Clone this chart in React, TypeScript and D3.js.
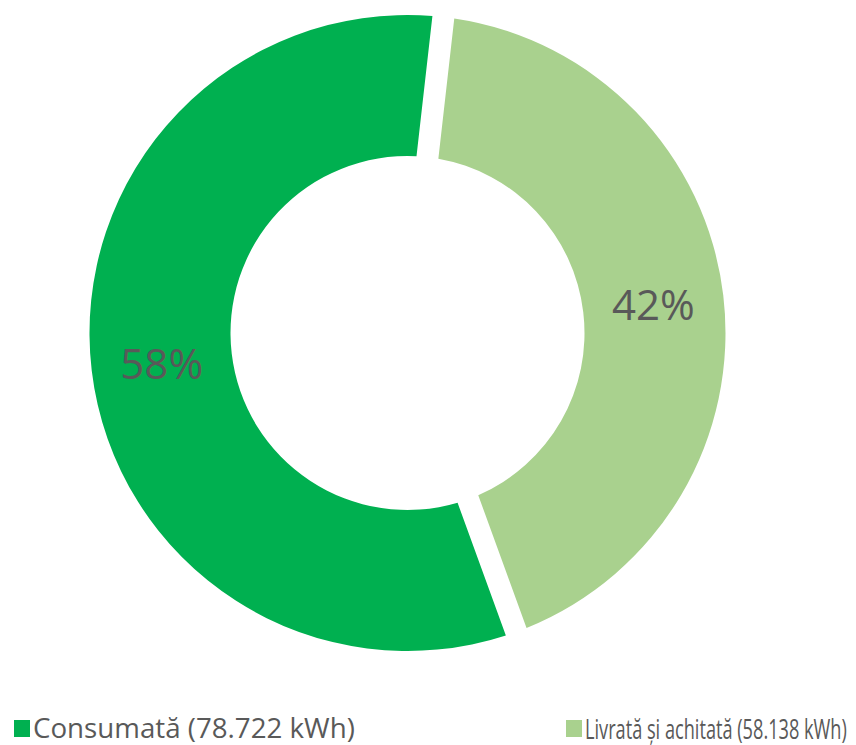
import React, { useEffect, useLayoutEffect, useRef, useState } from 'react';
import * as d3 from 'd3';

const categories = ['Consumată', 'Livrată și achitată'];
const valuesKwh = [78.722, 58.138];
const legendLabels = ['Consumată (78.722 kWh)', 'Livrată și achitată (58.138 kWh)'];
const colors = ['#00B050', '#A9D18E'];

const width = 856;
const height = 745;

export default function App() {
  const legendRefs = useRef<(SVGTextElement | null)[]>([]);
  const [legendScale, setLegendScale] = useState([1, 1]);

  useEffect(() => {
    document.body.style.margin = '0';
  }, []);

  const cx = 407.5;
  const cy = 333;
  const outerR = 318;
  const innerR = 177;
  const gap = 22;

  const total = d3.sum(valuesKwh);
  const startDeg = 160;
  const pie = d3
    .pie<number>()
    .sort(null)
    .value(d => d)
    .startAngle((startDeg * Math.PI) / 180)
    .endAngle(((startDeg + 360) * Math.PI) / 180)
    .padAngle(gap / outerR);

  const arc = d3
    .arc<d3.PieArcDatum<number>>()
    .innerRadius(innerR)
    .outerRadius(outerR)
    .padRadius(outerR);

  const labelArc = d3
    .arc<d3.PieArcDatum<number>>()
    .innerRadius((innerR + outerR) / 2)
    .outerRadius((innerR + outerR) / 2);

  const arcs = pie(valuesKwh);
  const pct = d3.format('.0%');

  // legend: squares, text start and target text widths
  const legendX = [14, 566];
  const legendTextW = [322, 262];
  const legendY = 728;

  // squeeze legend text horizontally to the widths seen in the chart
  useLayoutEffect(() => {
    const s = legendRefs.current.map((el, i) => {
      if (!el) return 1;
      const w = el.getComputedTextLength();
      return w > 0 ? legendTextW[i] / w : 1;
    });
    setLegendScale(s);
  }, []);

  return (
    <svg width={width} height={height} style={{ display: 'block', background: '#fff' }}>
      <g transform={`translate(${cx},${cy})`}>
        {arcs.map((a, i) => (
          <path key={categories[i]} d={arc(a) || ''} fill={colors[i]} />
        ))}
        {arcs.map((a, i) => {
          const [lx, ly] = labelArc.centroid(a);
          return (
            <text
              key={'l' + i}
              x={lx}
              y={ly}
              textAnchor="middle"
              dominantBaseline="central"
              fill="#595959"
              fontFamily="'Open Sans', 'Noto Sans', sans-serif"
              fontSize={42}
            >
              {pct(a.data / total)}
            </text>
          );
        })}
      </g>
      {legendLabels.map((t, i) => (
        <g key={t} transform={`translate(${legendX[i]},${legendY})`}>
          <rect x={0} y={-8} width={16} height={17} fill={colors[i]} />
          <g transform={`translate(19,0) scale(${legendScale[i]},1)`}>
            <text
              ref={el => {
                legendRefs.current[i] = el;
              }}
              x={0}
              y={0}
              dominantBaseline="central"
              fill="#595959"
              fontFamily="'Open Sans', 'Noto Sans', sans-serif"
              fontSize={27}
            >
              {t}
            </text>
          </g>
        </g>
      ))}
    </svg>
  );
}
